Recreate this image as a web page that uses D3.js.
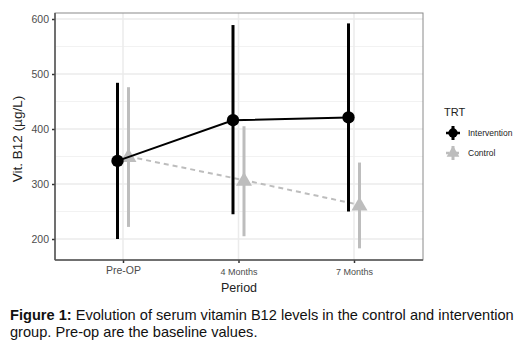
<!DOCTYPE html>
<html><head><meta charset="utf-8">
<script src="https://cdn.jsdelivr.net/npm/d3@7"></script>
<style>body{margin:0;background:#fff}svg{display:block}</style>
</head><body>
<script>
const periods = ["Pre-OP", "4 Months", "7 Months"];
const groups = ["Intervention", "Control"];
const interventionMean = [342, 416, 421];
const interventionLow = [200, 245, 250];
const interventionHigh = [484, 589, 592];
const controlMean = [350, 307, 262];
const controlLow = [222, 205, 183];
const controlHigh = [476, 405, 339];
const yTicks = [200, 300, 400, 500, 600];

const W = 524, H = 348;
const svg = d3.select("body").append("svg").attr("width", W).attr("height", H);
const P = {l: 55, r: 423, t: 13, b: 260};
const FF = "Liberation Sans, Arial, sans-serif";

const x = d3.scalePoint().domain(periods).range([123, 354]);
const y = d3.scaleLinear().domain([200, 600]).range([239, 19]);
const dodge = d3.scalePoint().domain(groups).range([-5.5, 5.5]);

// panel
svg.append("rect").attr("x", P.l).attr("y", P.t).attr("width", P.r - P.l).attr("height", P.b - P.t).attr("fill", "#fff");
const minor = [250, 350, 450, 550];
svg.append("g").selectAll("line").data(minor).join("line")
  .attr("x1", P.l).attr("x2", P.r).attr("y1", d => y(d)).attr("y2", d => y(d))
  .attr("stroke", "#f2f2f2").attr("stroke-width", 1);
svg.append("g").selectAll("line").data(yTicks).join("line")
  .attr("x1", P.l).attr("x2", P.r).attr("y1", d => y(d)).attr("y2", d => y(d))
  .attr("stroke", "#ebebeb").attr("stroke-width", 1.5);
svg.append("g").selectAll("line").data(periods).join("line")
  .attr("x1", d => x(d)).attr("x2", d => x(d)).attr("y1", P.t).attr("y2", P.b)
  .attr("stroke", "#ebebeb").attr("stroke-width", 1.5);
svg.append("rect").attr("x", P.l).attr("y", P.t).attr("width", P.r - P.l).attr("height", P.b - P.t)
  .attr("fill", "none").attr("stroke", "#8a8a8a").attr("stroke-width", 1);

// axes
const ya = svg.append("g").attr("transform", `translate(${P.l},0)`)
  .call(d3.axisLeft(y).tickValues(yTicks).tickSize(3).tickPadding(3));
ya.select(".domain").remove();
ya.append("line").attr("x1", 0).attr("x2", 0).attr("y1", P.t).attr("y2", P.b).attr("stroke", "#555").attr("stroke-width", 1.5);
ya.selectAll(".tick line").attr("stroke", "#333").attr("stroke-width", 1.5);
ya.selectAll(".tick text").attr("fill", "#4d4d4d").style("font-family", FF).style("font-size", "10.5px");

const xa = svg.append("g").attr("transform", `translate(0,${P.b})`)
  .call(d3.axisBottom(x).tickSize(3).tickPadding(4));
xa.select(".domain").remove();
xa.append("line").attr("x1", P.l).attr("x2", P.r).attr("y1", 0).attr("y2", 0).attr("stroke", "#555").attr("stroke-width", 1.5);
xa.selectAll(".tick line").attr("stroke", "#333").attr("stroke-width", 1.5);
xa.selectAll(".tick text").attr("fill", "#4d4d4d").style("font-family", FF)
  .style("font-size", d => d === "Pre-OP" ? "10.5px" : "9px")
  .attr("dy", d => d === "Pre-OP" ? "0.71em" : "0.85em");

// titles
svg.append("text").attr("x", 239).attr("y", 292).attr("text-anchor", "middle")
  .style("font-family", FF).style("font-size", "12.5px").attr("fill", "#222").text("Period");
svg.append("text").attr("transform", "translate(22,139) rotate(-90)").attr("text-anchor", "middle")
  .style("font-family", FF).style("font-size", "13.5px").attr("fill", "#222").text("Vit. B12 (µg/L)");

const series = [
  {g: "Control", mean: controlMean, lo: controlLow, hi: controlHigh, color: "#bdbdbd", dash: "5,4", shape: d3.symbolTriangle},
  {g: "Intervention", mean: interventionMean, lo: interventionLow, hi: interventionHigh, color: "#000", dash: null, shape: d3.symbolCircle}
];
const px = (s, i) => x(periods[i]) + dodge(s.g);

series.forEach(s => {
  const gg = svg.append("g");
  const line = d3.line().x((d, i) => px(s, i)).y(d => y(d));
  gg.append("path").attr("d", line(s.mean)).attr("fill", "none").attr("stroke", s.color)
    .attr("stroke-width", 2).attr("stroke-dasharray", s.dash);
  gg.selectAll("line.err").data(s.mean).join("line").attr("class", "err")
    .attr("x1", (d, i) => px(s, i)).attr("x2", (d, i) => px(s, i))
    .attr("y1", (d, i) => y(s.lo[i])).attr("y2", (d, i) => y(s.hi[i]))
    .attr("stroke", s.color).attr("stroke-width", 3);
  gg.selectAll("path.pt").data(s.mean).join("path").attr("class", "pt")
    .attr("transform", (d, i) => `translate(${px(s, i)},${y(d) + (s.g === "Control" ? 1 : 0)})`)
    .attr("d", d3.symbol().type(s.shape).size(s.g === "Control" ? 110 : 120)).attr("fill", s.color);
});

// legend
const lg = svg.append("g");
lg.append("text").attr("x", 444).attr("y", 116).style("font-family", FF)
  .style("font-size", "11px").attr("fill", "#222").text("TRT");
[["Intervention", "#000", d3.symbolCircle, 133, null], ["Control", "#bdbdbd", d3.symbolTriangle, 153, "3,2"]].forEach(([name, c, sh, yy, dash]) => {
  lg.append("line").attr("x1", 446).attr("x2", 460).attr("y1", yy).attr("y2", yy).attr("stroke", c).attr("stroke-width", 2.5).attr("stroke-dasharray", dash);
  lg.append("line").attr("x1", 453).attr("x2", 453).attr("y1", yy - 7).attr("y2", yy + 7).attr("stroke", c).attr("stroke-width", 3);
  lg.append("path").attr("transform", `translate(453,${yy})`).attr("d", d3.symbol().type(sh).size(70)).attr("fill", c);
  lg.append("text").attr("x", 468).attr("y", yy + 3).style("font-family", FF)
    .style("font-size", "8.5px").attr("fill", "#222").text(name);
});

// caption
const cap = svg.append("text").attr("x", 10).attr("y", 320).style("font-family", FF)
  .style("font-size", "14.6px").attr("fill", "#111");
cap.append("tspan").style("font-weight", "bold").text("Figure 1:");
cap.append("tspan").text(" Evolution of serum vitamin B12 levels in the control and intervention");
svg.append("text").attr("x", 10).attr("y", 337).style("font-family", FF)
  .style("font-size", "14.6px").attr("fill", "#111").text("group. Pre-op are the baseline values.");
</script>
</body></html>
